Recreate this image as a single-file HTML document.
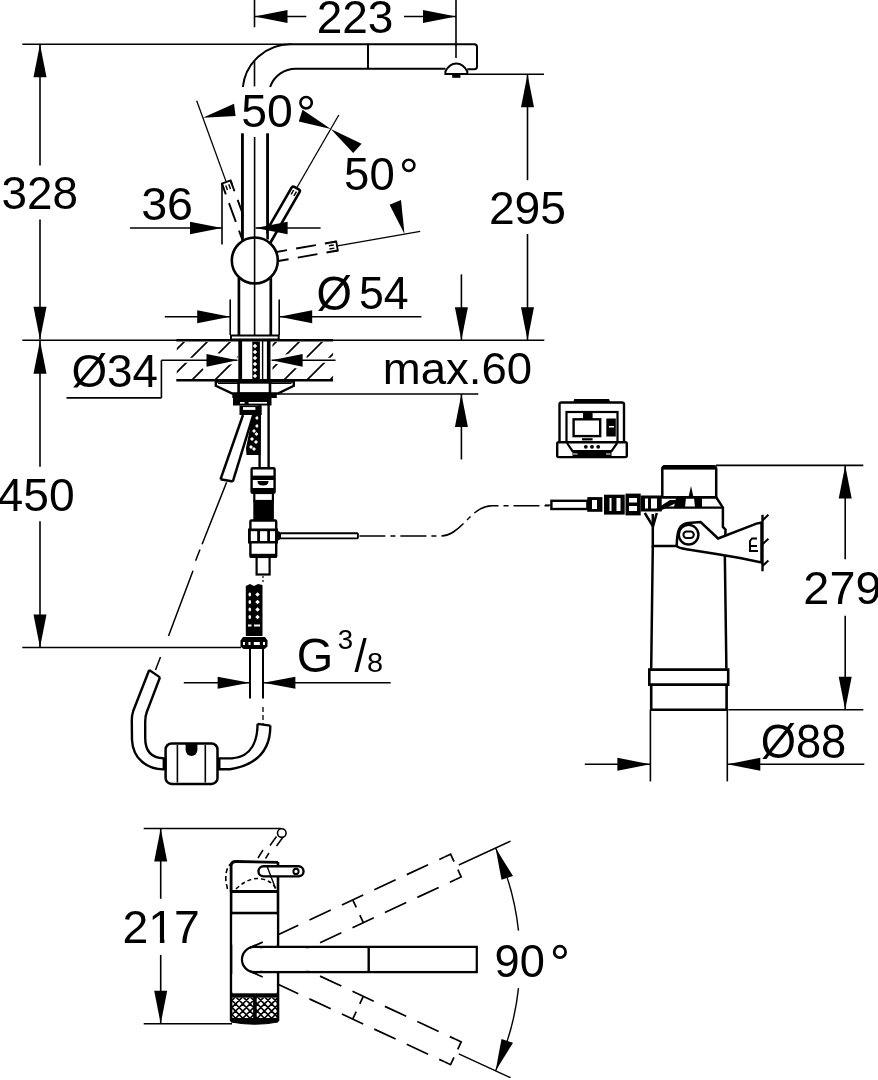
<!DOCTYPE html>
<html><head><meta charset="utf-8"><style>
html,body{margin:0;padding:0;background:#fff;overflow:hidden;width:878px;height:1080px;}
svg{display:block;will-change:transform;}
text{font-family:"Liberation Sans",sans-serif;fill:#000;stroke:none;}
</style></head><body>
<svg width="878" height="1080" viewBox="0 0 878 1080" stroke="#000" fill="none" stroke-linecap="butt">
<line x1="254.5" y1="0" x2="254.5" y2="27.3" stroke-width="1.6" />
<line x1="456" y1="0" x2="456" y2="57.9" stroke-width="1.6" />
<line x1="254.5" y1="16.5" x2="306.3" y2="16.5" stroke-width="1.6" />
<line x1="404" y1="16.5" x2="456" y2="16.5" stroke-width="1.6" />
<path d="M254.5,16.5 L287.5,10.0 L287.5,23.0 Z" fill="#000" stroke="none"/>
<path d="M456.0,16.5 L423.0,23.0 L423.0,10.0 Z" fill="#000" stroke="none"/>
<text transform="matrix(0.4599 0 0 0.4549 316.70 33.35)" font-size="100">223</text>
<line x1="22.3" y1="44.2" x2="292" y2="44.2" stroke-width="1.6" />
<line x1="40" y1="44.2" x2="40" y2="165.5" stroke-width="1.6" />
<line x1="40" y1="219.5" x2="40" y2="339.5" stroke-width="1.6" />
<path d="M40.0,44.2 L46.5,77.2 L33.5,77.2 Z" fill="#000" stroke="none"/>
<path d="M40.0,339.8 L33.5,306.8 L46.5,306.8 Z" fill="#000" stroke="none"/>
<text transform="matrix(0.4582 0 0 0.4563 1.57 209.24)" font-size="100">328</text>
<line x1="22.3" y1="340.3" x2="544.3" y2="340.3" stroke-width="1.6" />
<line x1="40" y1="340.3" x2="40" y2="466.7" stroke-width="1.6" />
<line x1="40" y1="521.3" x2="40" y2="647.5" stroke-width="1.6" />
<path d="M40.0,340.8 L46.5,373.8 L33.5,373.8 Z" fill="#000" stroke="none"/>
<path d="M40.0,647.5 L33.5,614.5 L46.5,614.5 Z" fill="#000" stroke="none"/>
<text transform="matrix(0.4621 0 0 0.4620 -2.42 510.54)" font-size="100">450</text>
<line x1="22.3" y1="647.5" x2="241" y2="647.5" stroke-width="1.6" />
<line x1="467.3" y1="74.3" x2="544" y2="74.3" stroke-width="1.6" />
<line x1="527.5" y1="74.3" x2="527.5" y2="180.2" stroke-width="1.6" />
<line x1="527.5" y1="234" x2="527.5" y2="340.2" stroke-width="1.6" />
<path d="M527.5,74.3 L534.0,107.3 L521.0,107.3 Z" fill="#000" stroke="none"/>
<path d="M527.5,340.2 L521.0,307.2 L534.0,307.2 Z" fill="#000" stroke="none"/>
<text transform="matrix(0.4627 0 0 0.4620 488.89 223.54)" font-size="100">295</text>
<line x1="461.4" y1="274.4" x2="461.4" y2="340.2" stroke-width="1.6" />
<path d="M461.4,340.2 L454.9,307.2 L467.9,307.2 Z" fill="#000" stroke="none"/>
<line x1="278" y1="394" x2="478.3" y2="394" stroke-width="1.6" />
<line x1="461.4" y1="394" x2="461.4" y2="459.5" stroke-width="1.6" />
<path d="M461.4,394.0 L467.9,427.0 L454.9,427.0 Z" fill="#000" stroke="none"/>
<text transform="matrix(0.4558 0 0 0.4465 382.71 383.55)" font-size="100">max.60</text>
<path d="M242.85,87 A48,48 0 0,1 290.6,44.2 L474.3,44.2 Q477,44.2 477,47 L477,66.4 Q477,69.2 474.3,69.2 L467.3,69.2" stroke-width="2" fill="none" />
<path d="M270.1,87 A27,27 0 0,1 297,68.7 L445.5,68.7" stroke-width="2" fill="none" />
<line x1="368" y1="44.2" x2="368" y2="68.7" stroke-width="2" />
<path d="M445.4,74 L445.4,71.5 C448,66 452,63.4 456.3,63.4 C460.6,63.4 464.6,66 467.3,71.5 L467.3,74 Z" stroke-width="2" fill="#fff" />
<rect x="452.2" y="75" width="8.2" height="2.8" fill="#000" stroke="none"/>
<line x1="254.5" y1="60.2" x2="254.5" y2="86.4" stroke-width="1.6" />
<line x1="242.4" y1="133.5" x2="242.4" y2="239.5" stroke-width="2.6" />
<line x1="267.6" y1="133.5" x2="267.6" y2="239.5" stroke-width="2.6" />
<line x1="254.6" y1="137" x2="254.6" y2="335.5" stroke-width="1.6" />
<g transform="translate(254.8,260.5) rotate(-20)">
<path d="M-4.6,-20 L-4.6,-83.5" stroke-width="1.9" stroke-dasharray="13.5,9.3,20,9.2,14"/>
<path d="M4.6,-20 L4.6,-83.5" stroke-width="1.9" stroke-dasharray="13.5,9.3,20,9.2,14"/>
<path d="M-4.6,-78.5 L-4.6,-83.5 L4.6,-83.5 L4.6,-78.5" stroke-width="1.8"/>
<path d="M-1.5999999999999996,-80.5 L-1.5999999999999996,-75.5 M1.5999999999999996,-80.5 L1.5999999999999996,-75.5" stroke-width="1.4"/>
</g>
<g transform="translate(254.8,260.5) rotate(80)">
<path d="M-4.6,-20 L-4.6,-83.5" stroke-width="1.9" stroke-dasharray="13.5,9.3,20,9.2,14"/>
<path d="M4.6,-20 L4.6,-83.5" stroke-width="1.9" stroke-dasharray="13.5,9.3,20,9.2,14"/>
<path d="M-4.6,-78.5 L-4.6,-83.5 L4.6,-83.5 L4.6,-78.5" stroke-width="1.8"/>
<path d="M-1.5999999999999996,-80.5 L-1.5999999999999996,-75.5 M1.5999999999999996,-80.5 L1.5999999999999996,-75.5" stroke-width="1.4"/>
</g>
<g transform="translate(254.8,260.5) rotate(30)">
<path d="M-4.6,-20 L-4.6,-81.5 Q-4.6,-83.5 -2.5999999999999996,-83.5 L2.5999999999999996,-83.5 Q4.6,-83.5 4.6,-81.5 L4.6,-20" stroke-width="2.6" fill="#fff"/>
<path d="M-1.5999999999999996,-80.5 L-1.5999999999999996,-75.5 M1.5999999999999996,-80.5 L1.5999999999999996,-75.5" stroke-width="1.4"/>
</g>
<rect x="243.8" y="133" width="22.4" height="108" fill="#fff" stroke="none"/>
<line x1="242.4" y1="133.5" x2="242.4" y2="239.5" stroke-width="2.6" />
<line x1="267.6" y1="133.5" x2="267.6" y2="239.5" stroke-width="2.6" />
<line x1="254.6" y1="137" x2="254.6" y2="240" stroke-width="1.6" />
<circle cx="254.8" cy="260.5" r="23" stroke-width="2.6" fill="#fff" />
<line x1="254.6" y1="236.5" x2="254.6" y2="284.5" stroke-width="1.6" />
<line x1="238.9" y1="278" x2="238.9" y2="335.5" stroke-width="2.7" />
<line x1="270.8" y1="278" x2="270.8" y2="335.5" stroke-width="2.7" />
<rect x="231" y="335.5" width="47.7" height="4" stroke-width="2" fill="#fff"/>
<line x1="226.1" y1="181.6" x2="196.7" y2="100.8" stroke-width="1.3" />
<line x1="296.8" y1="187.8" x2="338.8" y2="115.0" stroke-width="1.3" />
<line x1="337.5" y1="245.9" x2="420.2" y2="231.3" stroke-width="1.3" />
<path d="M202.8,117.7 L234.0,103.7 L235.6,116.0 Z" fill="#000" stroke="none"/>
<path d="M330.8,128.9 L302.5,109.7 L298.8,121.5 Z" fill="#000" stroke="none"/>
<path d="M330.8,128.9 L361.6,143.7 L353.2,152.9 Z" fill="#000" stroke="none"/>
<path d="M404.5,234.1 L401.0,200.1 L389.6,204.8 Z" fill="#000" stroke="none"/>
<text transform="matrix(0.4641 0 0 0.4592 241.14 127.14)" font-size="100">50</text>
<circle cx="306.1" cy="102.7" r="5.7" stroke-width="2.6" fill="none" />
<text transform="matrix(0.4553 0 0 0.4620 344.08 189.64)" font-size="100">50</text>
<circle cx="408.8" cy="165.3" r="5.6" stroke-width="2.6" fill="none" />
<line x1="222" y1="184.2" x2="222" y2="244.6" stroke-width="1.6" />
<line x1="130" y1="228" x2="222" y2="228" stroke-width="1.6" />
<path d="M222.0,228.0 L190.0,234.2 L190.0,221.8 Z" fill="#000" stroke="none"/>
<line x1="255.6" y1="228" x2="320.6" y2="228" stroke-width="1.6" />
<path d="M255.6,228.0 L287.6,221.8 L287.6,234.2 Z" fill="#000" stroke="none"/>
<text transform="matrix(0.4660 0 0 0.4535 141.14 220.05)" font-size="100">36</text>
<line x1="230.2" y1="299.5" x2="230.2" y2="335" stroke-width="1.6" />
<line x1="279.2" y1="299.5" x2="279.2" y2="335" stroke-width="1.6" />
<line x1="164.8" y1="316.7" x2="230.2" y2="316.7" stroke-width="1.6" />
<path d="M230.2,316.7 L197.2,323.2 L197.2,310.2 Z" fill="#000" stroke="none"/>
<line x1="279.2" y1="316.7" x2="421.4" y2="316.7" stroke-width="1.6" />
<path d="M279.2,316.7 L312.2,310.2 L312.2,323.2 Z" fill="#000" stroke="none"/>
<text transform="matrix(0.4557 0 0 0.4730 316.58 309.55)" font-size="100">Ø</text>
<text transform="matrix(0.4471 0 0 0.4657 358.91 308.93)" font-size="100">54</text>
<line x1="176.3" y1="340.3" x2="333.1" y2="340.3" stroke-width="2.4" />
<line x1="176.3" y1="380.3" x2="333.1" y2="380.3" stroke-width="2.4" />
<defs><clipPath id="hc"><rect x="176.8" y="342" width="61" height="37.5"/><rect x="272.5" y="342" width="60.6" height="37.5"/></clipPath></defs>
<path d="M99.0,381 L140.0,340 M122.0,381 L163.0,340 M145.0,381 L186.0,340 M168.0,381 L209.0,340 M191.0,381 L232.0,340 M214.0,381 L255.0,340 M237.0,381 L278.0,340 M260.0,381 L301.0,340 M283.0,381 L324.0,340 M306.0,381 L347.0,340 M329.0,381 L370.0,340 M352.0,381 L393.0,340 M375.0,381 L416.0,340 M398.0,381 L439.0,340" stroke-width="1.7" clip-path="url(#hc)"/>
<path d="M176,360.3 L334,360.3" stroke="#fff" stroke-width="5"/>
<path d="M237.5,360.3 L205,353 L205,367.6 Z M271.6,360.3 L304,353 L304,367.6 Z" fill="#fff" stroke="#fff" stroke-width="5" stroke-linejoin="round"/>
<line x1="240.2" y1="340.3" x2="240.2" y2="381" stroke-width="3.8" />
<line x1="268.7" y1="340.3" x2="268.7" y2="381" stroke-width="3.6" />
<rect x="252.3" y="341.5" width="7.6" height="39" fill="#000" stroke="none"/>
<rect x="253.4" y="344.4" width="3.2" height="3.2" fill="#fff" stroke="none" transform="rotate(45 255 346)"/>
<rect x="253.4" y="350.4" width="3.2" height="3.2" fill="#fff" stroke="none" transform="rotate(45 255 352)"/>
<rect x="253.4" y="356.4" width="3.2" height="3.2" fill="#fff" stroke="none" transform="rotate(45 255 358)"/>
<rect x="253.4" y="362.4" width="3.2" height="3.2" fill="#fff" stroke="none" transform="rotate(45 255 364)"/>
<rect x="253.4" y="368.4" width="3.2" height="3.2" fill="#fff" stroke="none" transform="rotate(45 255 370)"/>
<rect x="253.4" y="374.4" width="3.2" height="3.2" fill="#fff" stroke="none" transform="rotate(45 255 376)"/>
<line x1="262.6" y1="341" x2="262.6" y2="381" stroke-width="1.4" />
<line x1="161.4" y1="360.3" x2="237.5" y2="360.3" stroke-width="1.6" />
<path d="M237.5,360.3 L206.5,366.7 L206.5,353.9 Z" fill="#000" stroke="none"/>
<line x1="271.6" y1="360.3" x2="335.6" y2="360.3" stroke-width="1.6" />
<path d="M271.6,360.3 L302.6,353.9 L302.6,366.7 Z" fill="#000" stroke="none"/>
<line x1="161.4" y1="360.3" x2="161.4" y2="397.9" stroke-width="1.6" />
<line x1="66.5" y1="397.9" x2="161.4" y2="397.9" stroke-width="1.6" />
<text transform="matrix(0.4582 0 0 0.4595 71.47 387.08)" font-size="100">Ø34</text>
<path d="M215.8,381.5 L215.8,385.8 L232.3,393.5 L277.9,393.5 L293.8,385.8 L293.8,381.5 Z" stroke-width="2.4" fill="#fff" />
<line x1="218" y1="383.3" x2="291.5" y2="383.3" stroke-width="1.2" />
<rect x="238.6" y="382.4" width="31.4" height="11" stroke-width="2.6" fill="#fff"/>
<rect x="232.3" y="393.5" width="44.5" height="4.5" fill="#000" stroke="none"/>
<rect x="233" y="396.5" width="38.5" height="9" fill="#000" stroke="none"/>
<rect x="240" y="402" width="4.6" height="1.6" fill="#fff" stroke="none"/><rect x="248.6" y="402" width="18.4" height="1.6" fill="#fff" stroke="none"/>
<rect x="239.5" y="405.5" width="22.2" height="9.5" fill="#000" stroke="none"/>
<rect x="243" y="407.1" width="12.4" height="2.8" fill="#fff" stroke="none"/>
<path d="M243,415 L220.5,479.3" stroke-width="2.5" fill="none" />
<path d="M253.2,415 L232.8,481.6" stroke-width="2.5" fill="none" />
<path d="M220.5,479.3 L232.8,481.6" stroke-width="2.5" fill="none" />
<path d="M253,414 L261,414 L260.5,455 L246.5,455 L246,448 Z" fill="#000" stroke="none"/>
<rect x="255.6" y="416.6" width="2.8" height="2.8" fill="#fff" stroke="none" transform="rotate(45 257 418)"/>
<rect x="255.6" y="424.6" width="2.8" height="2.8" fill="#fff" stroke="none" transform="rotate(45 257 426)"/>
<rect x="255.1" y="432.6" width="2.8" height="2.8" fill="#fff" stroke="none" transform="rotate(45 256.5 434)"/>
<rect x="254.6" y="440.6" width="2.8" height="2.8" fill="#fff" stroke="none" transform="rotate(45 256 442)"/>
<rect x="252.6" y="447.6" width="2.8" height="2.8" fill="#fff" stroke="none" transform="rotate(45 254 449)"/>
<rect x="249.6" y="445.6" width="2.8" height="2.8" fill="#fff" stroke="none" transform="rotate(45 251 447)"/>
<rect x="250.6" y="437.6" width="2.8" height="2.8" fill="#fff" stroke="none" transform="rotate(45 252 439)"/>
<rect x="252.6" y="429.6" width="2.8" height="2.8" fill="#fff" stroke="none" transform="rotate(45 254 431)"/>
<line x1="259.6" y1="405" x2="259.6" y2="468.2" stroke-width="2.4" />
<line x1="268.6" y1="405" x2="268.6" y2="468.2" stroke-width="2.4" />
<rect x="251.6" y="468.3" width="23" height="24.5" stroke-width="2.4" fill="#fff" rx="1"/>
<rect x="251.6" y="475.6" width="23" height="4.4" fill="#000" stroke="none"/>
<path d="M257.5,481 L268.5,481 Q268.5,485.5 263,485.5 Q257.5,485.5 257.5,481 Z" fill="#000" stroke="none"/>
<rect x="251.6" y="488" width="23" height="5" fill="#000" stroke="none"/>
<rect x="254.3" y="493" width="18.6" height="8" stroke-width="2.2" fill="#fff"/>
<rect x="253.3" y="500.6" width="20.6" height="20" fill="#000" stroke="none"/>
<rect x="250.4" y="520.5" width="25.8" height="36.4" stroke-width="2.4" fill="#fff" rx="1"/>
<rect x="248" y="528.5" width="30" height="15" fill="#000" stroke="none"/>
<rect x="250.8" y="531.2" width="6.399999999999977" height="9.8" fill="#fff" stroke="none"/>
<rect x="260" y="531.2" width="7.199999999999989" height="9.8" fill="#fff" stroke="none"/>
<rect x="270" y="531.2" width="5" height="9.8" fill="#fff" stroke="none"/>
<rect x="250" y="553.8" width="26.5" height="3.5" fill="#000" stroke="none"/>
<path d="M276,530 L281,532.5 L281,539 L276,541.5 Z" fill="#000" stroke="none"/>
<path d="M281,533.2 L357.9,533.2 M281,538.4 L357.9,538.4 M357.9,533.2 L357.9,538.4" stroke-width="1.9" fill="none" />
<path d="M359.4,536 L440.7,536 C462,536 470,505.8 492,505.8 L551,505.8" stroke-width="1.4" fill="none" stroke-dasharray="26,5,5,5"/>
<rect x="256.6" y="557" width="13" height="17.5" stroke-width="2.2" fill="#fff"/>
<line x1="263" y1="576" x2="263" y2="584" stroke-width="1.2" stroke-dasharray="2,2"/>
<path d="M245.8,586 L250,584 L254,586 L258,584 L262.5,585 L262.5,636 L245.8,636 Z" fill="#000" stroke="none"/>
<ellipse cx="249.8" cy="594.5" rx="1.3" ry="1.9" fill="#fff" stroke="none"/>
<rect x="255.9" y="592.9" width="3.2" height="3.2" fill="#fff" stroke="none" transform="rotate(45 257.5 594.5)"/>
<ellipse cx="249.8" cy="602" rx="1.3" ry="1.9" fill="#fff" stroke="none"/>
<rect x="255.9" y="600.4" width="3.2" height="3.2" fill="#fff" stroke="none" transform="rotate(45 257.5 602)"/>
<ellipse cx="249.8" cy="609.5" rx="1.3" ry="1.9" fill="#fff" stroke="none"/>
<rect x="255.9" y="607.9" width="3.2" height="3.2" fill="#fff" stroke="none" transform="rotate(45 257.5 609.5)"/>
<ellipse cx="249.8" cy="617" rx="1.3" ry="1.9" fill="#fff" stroke="none"/>
<rect x="255.9" y="615.4" width="3.2" height="3.2" fill="#fff" stroke="none" transform="rotate(45 257.5 617)"/>
<rect x="248" y="624.5" width="3.5" height="2" fill="#fff" stroke="none"/><rect x="254" y="624.5" width="6" height="2" fill="#fff" stroke="none"/>
<path d="M243,637 L265,637 L267.5,640.5 L267.5,646.5 L264.5,649 L243.5,649 L240.5,646.5 L240.5,640.5 Z" fill="#000" stroke="none"/>
<rect x="243" y="642" width="2" height="3" fill="#fff" stroke="none"/><rect x="248.5" y="642" width="2" height="3" fill="#fff" stroke="none"/><rect x="253.8" y="642" width="6" height="3" fill="#fff" stroke="none"/><rect x="263" y="642" width="2" height="3" fill="#fff" stroke="none"/>
<line x1="250" y1="649" x2="250" y2="698.6" stroke-width="2" />
<line x1="263" y1="649" x2="263" y2="698.6" stroke-width="2" />
<line x1="263" y1="707" x2="263" y2="724" stroke-width="1.3" stroke-dasharray="5,3"/>
<line x1="183.8" y1="682.8" x2="250" y2="682.8" stroke-width="1.6" />
<path d="M249.6,682.8 L217.6,688.8 L217.6,676.8 Z" fill="#000" stroke="none"/>
<line x1="263" y1="682.8" x2="390.7" y2="682.8" stroke-width="1.6" />
<path d="M263.4,682.8 L295.4,676.8 L295.4,688.8 Z" fill="#000" stroke="none"/>
<text transform="matrix(0.4692 0 0 0.4803 296.75 672.12)" font-size="100">G</text>
<text transform="matrix(0.2766 0 0 0.2690 337.69 649.13)" font-size="100">3</text>
<text transform="matrix(0.4393 0 0 0.4589 354.50 672.00)" font-size="100">/</text>
<text transform="matrix(0.2894 0 0 0.2789 367.04 671.62)" font-size="100">8</text>
<path d="M257.6,723.8 L270.3,725.6" stroke-width="2.2" fill="none" />
<path d="M270.3,725.6 C270.5,745 262,764 230,769.3 L219.3,769.3" stroke-width="2.4" fill="none" />
<path d="M257.6,723.8 C257.5,740 252,757 232,758.4 L219.3,758.4" stroke-width="2.4" fill="none" />
<rect x="216.5" y="757.5" width="4" height="12.8" fill="#000" stroke="none"/>
<rect x="165.6" y="743.5" width="51.9" height="40.4" rx="6" stroke-width="2.5" fill="#fff"/>
<line x1="177.4" y1="745" x2="177.4" y2="782.5" stroke-width="1.6" />
<line x1="205.3" y1="745" x2="205.3" y2="782.5" stroke-width="1.6" />
<path d="M185.6,744 L197.4,744 L197.4,750 A5.9,5.9 0 0,1 185.6,750 Z" fill="#000" stroke="none"/>
<rect x="162.6" y="757.5" width="4" height="12.8" fill="#000" stroke="none"/>
<path d="M163.7,769.4 C148,769 133,760 132,740 L131.8,722 Q131.6,716 133.2,711 L149.2,670" stroke-width="2.4" fill="none" />
<path d="M163.7,758.3 C152,758 145.2,752 145.2,738 L145.2,722 Q145.2,716 146.8,712 L160,677.3" stroke-width="2.4" fill="none" />
<path d="M149.2,670 L160,677.3" stroke-width="2.2" fill="none" />
<path d="M226.6,482.2 L202.1,544.3 M200,549.6 L195.6,560.8 M193,570.8 L168.5,636 M160.5,657 L155.5,670" stroke-width="1.5" fill="none" />
<path d="M574,402.5 L574.8,399.8 L608.5,399.8 L609.5,402.5 Z" fill="#000" stroke="#000" stroke-width="1.5"/>
<rect x="559.5" y="402.5" width="64.5" height="40.5" rx="2" stroke-width="2.4" fill="#fff"/>
<rect x="566.5" y="412" width="51" height="31" stroke-width="2.2" fill="#fff"/>
<rect x="573.6" y="419.3" width="26.6" height="16.8" stroke-width="2.4" fill="#fff"/>
<rect x="583" y="412" width="9.6" height="7" fill="#000" stroke="none"/>
<rect x="606.3" y="418.5" width="9.5" height="18" fill="#000" stroke="none"/>
<rect x="609" y="426" width="5" height="1.5" fill="#fff" stroke="none"/>
<rect x="582" y="438.2" width="10.6" height="2.2" fill="#000" stroke="none"/>
<rect x="557.2" y="442.3" width="69.6" height="14.8" rx="1.5" stroke-width="2.4" fill="#fff"/>
<path d="M567,443 L572.5,451.2 L611.5,451.2 L617.2,443" stroke-width="2.2" fill="none"/>
<rect x="572.5" y="451.2" width="39" height="5" fill="#000" stroke="none"/>
<circle cx="585.8" cy="446.8" r="1.9" stroke-width="0" fill="#000" />
<circle cx="592" cy="446.8" r="1.9" stroke-width="0" fill="#000" />
<circle cx="598.2" cy="446.8" r="1.9" stroke-width="0" fill="#000" />
<rect x="573" y="453.5" width="4.5" height="1" fill="#fff" stroke="none"/><rect x="606" y="453.5" width="4.5" height="1" fill="#fff" stroke="none"/>
<path d="M662.3,497.3 L662.3,469 Q662.3,466.5 665,466.3 L713.5,466.3 Q716.2,466.5 716.2,469 L716.2,497.3 Z" stroke-width="2.5" fill="#fff"/>
<rect x="663" y="465.6" width="52.5" height="4" fill="#000" stroke="none"/>
<line x1="716" y1="465.4" x2="863.3" y2="465.4" stroke-width="1.6" />
<path d="M662.3,497.3 L716.2,497.3 L722.9,507.6 L722.9,527 L725.5,529.5 L725,545.9" stroke-width="2.5" fill="none" />
<line x1="660" y1="507.6" x2="722.9" y2="507.6" stroke-width="2.4" />
<path d="M691,486 L693.5,497.3 L688.5,497.3 Z" fill="#000" stroke="none"/>
<path d="M676,498 L686,498 L685,507 L674,507 Z M694,498 L702,498 L702,507 L695,507 Z" fill="#000" stroke="none"/>
<path d="M652.8,514 L652.8,545.9 L676.7,545.9" stroke-width="2.5" fill="none" />
<path d="M644.8,513 L653,526.5 L656.8,513" stroke-width="2.5" fill="none" />
<path d="M652.8,545.9 L651.2,668.7 M724.7,545.9 L726.4,668.7" stroke-width="2.5" fill="none" />
<path d="M649.3,669.6 L728.2,669.6 L728.2,684.6 L649.3,684.6 Z" stroke-width="2.6" fill="#fff"/>
<path d="M651.2,685 L651.2,709.7 L726.6,709.7 L726.6,685" stroke-width="2.6" fill="none" />
<path d="M676.7,545.9 C677,531 679,524 688,523 L700.6,522 L718.1,538.5 L756.4,523.6 L761.5,522.5 L761.5,562.5 L740,558 L716.5,553.9 L688,549.5 C682,548.5 678,548 676.7,545.9 Z" stroke-width="2.5" fill="#fff"/>
<circle cx="688.6" cy="534.7" r="9.8" stroke-width="2.4" fill="#fff" />
<rect x="683.4" y="531.5" width="10.4" height="6.4" rx="3.2" stroke-width="2" fill="none"/>
<line x1="762.5" y1="514.8" x2="762.5" y2="571.3" stroke-width="2.4" />
<path d="M762.5,520.4 L768.4,514.8 M762.5,544.3 L768.4,538.7 M762.5,566 L768.4,560.4" stroke-width="2" fill="none" />
<path d="M757,538.5 L752,538.5 L750,541 L750,551 L758,551 M750,546 L757,546" stroke-width="2" fill="none" />
<rect x="551.4" y="500.8" width="36" height="8.2" stroke-width="2.4" fill="#fff"/>
<line x1="545" y1="505" x2="551.4" y2="505" stroke-width="1.2" />
<rect x="587.3" y="497.1" width="15.1" height="14.7" fill="#000" stroke="none"/><rect x="592" y="500" width="5" height="9" fill="#fff" stroke="none"/>
<rect x="604" y="494.7" width="20.7" height="19.9" fill="#000" stroke="none"/><rect x="609.5" y="498" width="2" height="13" fill="#fff" stroke="none"/><rect x="616.5" y="498" width="4" height="13" fill="#fff" stroke="none"/>
<rect x="625.5" y="493.6" width="15.2" height="21.8" fill="#000" stroke="none"/><rect x="629" y="498" width="8" height="4.5" fill="#fff" stroke="none"/><rect x="629" y="506" width="8" height="5" fill="#fff" stroke="none"/>
<rect x="640.7" y="495.5" width="21" height="16" fill="#000" stroke="none"/><rect x="645" y="498.5" width="3" height="10" fill="#fff" stroke="none"/><rect x="651" y="498.5" width="6" height="10" fill="#fff" stroke="none"/>
<path d="M656,509 L670,500 L676,500 L676,503 L660,511 Z" fill="#000" stroke="none"/>
<line x1="728.3" y1="709.7" x2="863.3" y2="709.7" stroke-width="1.6" />
<line x1="845.2" y1="465.4" x2="845.2" y2="559.3" stroke-width="1.6" />
<line x1="845.2" y1="615.7" x2="845.2" y2="709.7" stroke-width="1.6" />
<path d="M845.2,465.4 L851.7,498.4 L838.7,498.4 Z" fill="#000" stroke="none"/>
<path d="M845.2,709.7 L838.7,676.7 L851.7,676.7 Z" fill="#000" stroke="none"/>
<text transform="matrix(0.4682 0 0 0.4563 803.36 603.74)" font-size="100">279</text>
<line x1="650.4" y1="709.7" x2="650.4" y2="781.4" stroke-width="1.6" />
<line x1="727.3" y1="709.7" x2="727.3" y2="781.4" stroke-width="1.6" />
<line x1="584.8" y1="764.3" x2="650.4" y2="764.3" stroke-width="1.6" />
<path d="M650.4,764.3 L617.4,770.8 L617.4,757.8 Z" fill="#000" stroke="none"/>
<line x1="727.3" y1="764.3" x2="864.3" y2="764.3" stroke-width="1.6" />
<path d="M727.3,764.3 L760.3,757.8 L760.3,770.8 Z" fill="#000" stroke="none"/>
<text transform="matrix(0.4530 0 0 0.4811 760.69 757.64)" font-size="100">Ø88</text>
<line x1="143.7" y1="828.5" x2="281" y2="828.5" stroke-width="1.6" />
<line x1="143.7" y1="1023.8" x2="232" y2="1023.8" stroke-width="1.6" />
<line x1="160.7" y1="828.5" x2="160.7" y2="898.8" stroke-width="1.6" />
<line x1="160.7" y1="954.9" x2="160.7" y2="1023.8" stroke-width="1.6" />
<path d="M160.7,828.5 L167.2,861.5 L154.2,861.5 Z" fill="#000" stroke="none"/>
<path d="M160.7,1023.8 L154.2,990.8 L167.2,990.8 Z" fill="#000" stroke="none"/>
<text transform="matrix(0.4637 0 0 0.4614 122.38 942.80)" font-size="100">217</text>
<rect x="149" y="938.6" width="10.9" height="5.5" fill="#fff" stroke="none"/><rect x="164.4" y="938.6" width="9" height="5.5" fill="#fff" stroke="none"/>
<line x1="231.1" y1="890" x2="231.1" y2="1021" stroke-width="2.6" />
<line x1="278" y1="862" x2="278" y2="1021" stroke-width="2.6" />
<line x1="231.1" y1="891.5" x2="278" y2="891.5" stroke-width="2.8" />
<line x1="231.1" y1="913.2" x2="278" y2="913.2" stroke-width="2.8" />
<defs><clipPath id="kn"><rect x="232" y="997.5" width="45" height="21.5"/></clipPath></defs>
<path d="M176.3,1020 L201.3,995 M176.3,995 L201.3,1020 M183.5,1020 L208.5,995 M183.5,995 L208.5,1020 M190.7,1020 L215.7,995 M190.7,995 L215.7,1020 M197.9,1020 L222.9,995 M197.9,995 L222.9,1020 M205.1,1020 L230.1,995 M205.1,995 L230.1,1020 M212.3,1020 L237.3,995 M212.3,995 L237.3,1020 M219.5,1020 L244.5,995 M219.5,995 L244.5,1020 M226.7,1020 L251.7,995 M226.7,995 L251.7,1020 M233.9,1020 L258.9,995 M233.9,995 L258.9,1020 M241.1,1020 L266.1,995 M241.1,995 L266.1,1020 M248.3,1020 L273.3,995 M248.3,995 L273.3,1020 M255.5,1020 L280.5,995 M255.5,995 L280.5,1020 M262.7,1020 L287.7,995 M262.7,995 L287.7,1020 M269.9,1020 L294.9,995 M269.9,995 L294.9,1020 M277.1,1020 L302.1,995 M277.1,995 L302.1,1020 M284.3,1020 L309.3,995 M284.3,995 L309.3,1020 M291.5,1020 L316.5,995 M291.5,995 L316.5,1020 M298.7,1020 L323.7,995 M298.7,995 L323.7,1020 M305.9,1020 L330.9,995 M305.9,995 L330.9,1020 M313.1,1020 L338.1,995 M313.1,995 L338.1,1020 M320.3,1020 L345.3,995 M320.3,995 L345.3,1020 M327.5,1020 L352.5,995 M327.5,995 L352.5,1020" stroke-width="1.6" clip-path="url(#kn)"/>
<rect x="231" y="993.3" width="47" height="4.3" fill="#000" stroke="none"/>
<path d="M231,1018.5 L278,1018.5 L278,1022 Q255,1026.5 231,1022 Z" fill="#000" stroke="#000" stroke-width="1"/>
<rect x="253.1" y="995" width="3.6" height="26" fill="#000" stroke="none"/>
<path d="M231.1,891.5 L231.1,866 Q231.1,861.5 236,861.5 L278,862.3" stroke-width="2.8" fill="none" />
<path d="M263.5,866.3 L298.5,866.3 A5.05,5.05 0 0,1 298.5,876.4 L263.5,876.4 A5.05,5.05 0 0,1 263.5,866.3 Z" stroke-width="2.4" fill="#fff"/>
<circle cx="296" cy="871.4" r="2.6" stroke-width="2" fill="#fff" />
<line x1="267" y1="866" x2="275.5" y2="888.5" stroke-width="1.4" />
<path d="M236,889 Q250,876 262,879 Q272,881 276,889" stroke-width="1.6" fill="none" stroke-dasharray="4,3"/>
<path d="M227.5,889 L226,882 Q224.5,867 233,862" stroke-width="1.6" fill="none" stroke-dasharray="5,3"/>
<path d="M258,858 L263,850 M265.5,858.5 L269,853 M270,845.5 L276.5,836.5 M276.5,846 L283.5,836.5" stroke-width="1.5" fill="none" />
<circle cx="281.8" cy="833.1" r="4.3" stroke-width="1.6" fill="#fff" />
<path d="M254.6,946.9 L476.7,946.9 L476.7,972 L254.6,972 A12.55,12.55 0 0,1 254.6,946.9 Z" stroke-width="2.4" fill="#fff"/>
<line x1="368.7" y1="946.9" x2="368.7" y2="972" stroke-width="2.4" />
<g transform="rotate(-25 254.6 959.4)">
<path d="M254.6,946.9 L470,946.9 M254.6,972 L470,972" stroke-width="1.7" stroke-dasharray="23.5,12.3" stroke-dashoffset="5.25"/>
<path d="M470,946.9 L476.7,946.9 L476.7,955 M476.7,964 L476.7,972 L470,972" stroke-width="1.7"/>
<path d="M368.7,946.9 L368.7,955.2 M368.7,963.7 L368.7,972" stroke-width="1.7"/>
</g>
<g transform="rotate(25 254.6 959.4)">
<path d="M254.6,946.9 L470,946.9 M254.6,972 L470,972" stroke-width="1.7" stroke-dasharray="23.5,12.3" stroke-dashoffset="5.25"/>
<path d="M470,946.9 L476.7,946.9 L476.7,955 M476.7,964 L476.7,972 L470,972" stroke-width="1.7"/>
<path d="M368.7,946.9 L368.7,955.2 M368.7,963.7 L368.7,972" stroke-width="1.7"/>
</g>
<path d="M254.6,948.2 L475.4,948.2 L475.4,970.7 L254.6,970.7 A11.25,11.25 0 0,1 254.6,948.2 Z" fill="#fff" stroke="none"/>
<rect x="232.4" y="914.6" width="44.3" height="30" fill="#fff" stroke="none"/>
<rect x="232.4" y="974" width="44.3" height="18" fill="#fff" stroke="none"/>
<line x1="368.7" y1="946.9" x2="368.7" y2="972" stroke-width="2.4" />
<path d="M248.9,948.1 L262.7,942.1 M248.9,970.8 L262.7,977.1" stroke-width="1.7" fill="none" />
<path d="M495.6,848.0 A265.5,265.5 0 0,1 518.5,930.7" stroke-width="1.4" fill="none" />
<path d="M518.5,988.1 A265.5,265.5 0 0,1 495.6,1070.8" stroke-width="1.4" fill="none" />
<path d="M495.6,848.0 L513.0,876.0 L501.5,879.7 Z" fill="#000" stroke="none"/>
<line x1="458.8" y1="865.0" x2="510.6" y2="841.1" stroke-width="1.4" />
<path d="M495.6,1070.8 L513.0,1042.8 L501.5,1039.1 Z" fill="#000" stroke="none"/>
<line x1="458.8" y1="1053.8" x2="510.6" y2="1077.7" stroke-width="1.4" />
<text transform="matrix(0.4520 0 0 0.4620 494.54 976.54)" font-size="100">90</text>
<circle cx="559.9" cy="951.9" r="5.7" stroke-width="2.8" fill="none" />
</svg></body></html>
